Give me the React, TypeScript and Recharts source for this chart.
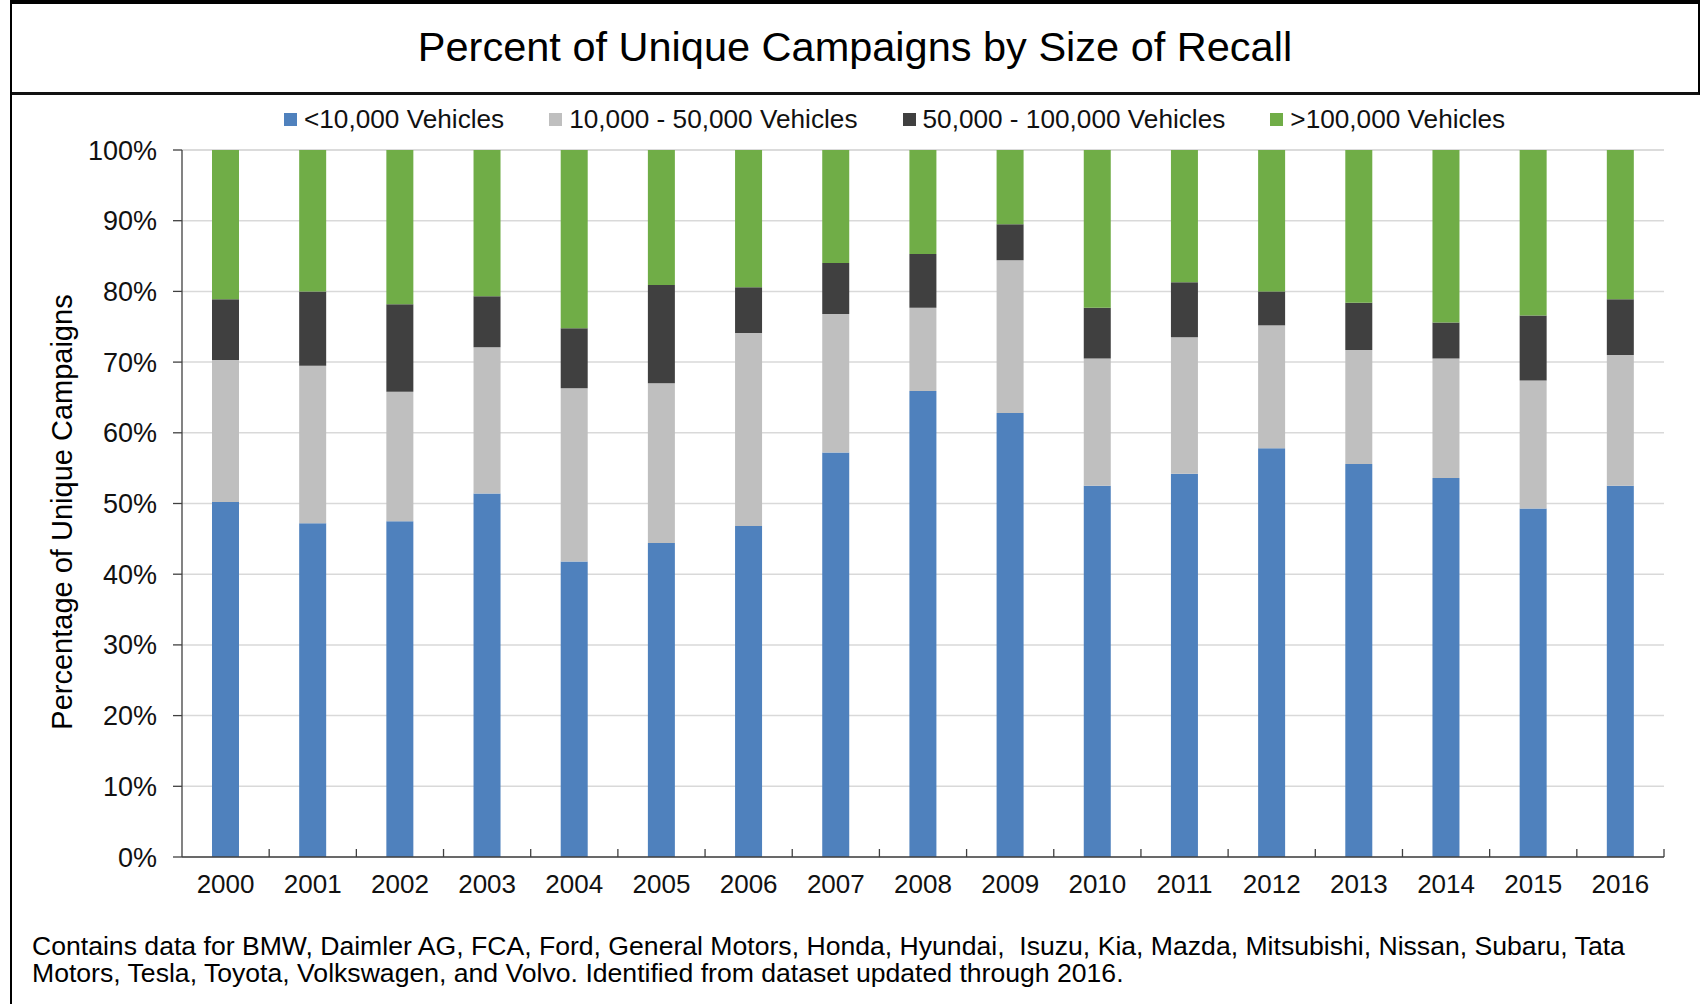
import React from 'react';
import { BarChart, Bar, XAxis, YAxis, CartesianGrid } from 'recharts';

const years = ['2000', '2001', '2002', '2003', '2004', '2005', '2006', '2007', '2008', '2009', '2010', '2011', '2012', '2013', '2014', '2015', '2016'];

// share of campaigns per recall size bucket, in percent
const under10k = [50.2, 47.2, 47.5, 51.4, 41.8, 44.4, 46.8, 57.2, 65.9, 62.8, 52.5, 54.2, 57.8, 55.6, 53.6, 49.3, 52.5];
const from10kTo50k = [20.1, 22.3, 18.3, 20.7, 24.5, 22.6, 27.3, 19.6, 11.8, 21.6, 18.0, 19.3, 17.4, 16.1, 16.9, 18.1, 18.5];
const from50kTo100k = [8.6, 10.5, 12.4, 7.2, 8.5, 13.9, 6.5, 7.2, 7.6, 5.1, 7.2, 7.8, 4.8, 6.7, 5.1, 9.2, 7.9];
const over100k = [21.1, 20.0, 21.8, 20.7, 25.2, 19.1, 19.4, 16.0, 14.7, 10.5, 22.3, 18.7, 20.0, 21.6, 24.4, 23.4, 21.1];

const yTicks = [0, 10, 20, 30, 40, 50, 60, 70, 80, 90, 100];
const yMinorTicks = Array.from({ length: 51 }, (_, i) => i * 2);

const series = [
  { key: 'under10k', name: '<10,000 Vehicles', color: '#4F81BD' },
  { key: 'from10kTo50k', name: '10,000 - 50,000 Vehicles', color: '#BFBFBF' },
  { key: 'from50kTo100k', name: '50,000 - 100,000 Vehicles', color: '#404040' },
  { key: 'over100k', name: '>100,000 Vehicles', color: '#70AD47' },
];

const FONT = '"Liberation Sans", Arial, Helvetica, sans-serif';
const W = 1700;
const H = 1004;
const PLOT_LEFT = 182;
const PLOT_RIGHT = 1664;
const PLOT_TOP = 150;
const PLOT_BOTTOM = 857;
const X_AXIS_H = 30;
const X_TICK_MARGIN = 18;
const BAND = (PLOT_RIGHT - PLOT_LEFT) / years.length;
const AXIS_COLOR = '#404040';

function XTick({ x, y, payload }: any) {
  const axisY = y - X_TICK_MARGIN;
  const bx = x + BAND / 2;
  return (
    <g>
      <line x1={bx} x2={bx} y1={axisY - 8} y2={axisY} stroke={AXIS_COLOR} strokeWidth={1.3} />
      <text x={x} y={y} dy="0.71em" textAnchor="middle" fontSize={26} fill="#111" fontFamily={FONT}>
        {payload.value}
      </text>
    </g>
  );
}

export default function App() {
  const data = years.map((year, i) => ({
    year,
    under10k: under10k[i],
    from10kTo50k: from10kTo50k[i],
    from50kTo100k: from50kTo100k[i],
    over100k: over100k[i],
  }));

  return (
    <div style={{ position: 'absolute', left: 0, top: 0, width: W, height: H, background: '#fff', fontFamily: FONT, overflow: 'hidden', color: '#111' }}>
      {/* frame */}
      <div style={{ position: 'absolute', left: 10, top: 0, width: W - 12, height: 88, borderTop: '4px solid #000', borderBottom: '3px solid #111', borderRight: '2px solid #000' }} />
      <div style={{ position: 'absolute', left: 10, top: 0, height: H, borderLeft: '2px solid #000' }} />

      <div style={{ position: 'absolute', left: 12, top: 4, width: W - 14, height: 86, display: 'flex', alignItems: 'center', justifyContent: 'center', fontSize: 41.5, color: '#000' }}>
        Percent of Unique Campaigns by Size of Recall
      </div>

      {/* legend */}
      <div style={{ position: 'absolute', left: 284, top: 104, height: 30, display: 'flex', alignItems: 'center', fontSize: 26.2, gap: 45 }}>
        {series.map(s => (
          <div key={s.key} style={{ display: 'flex', alignItems: 'center' }}>
            <span style={{ display: 'inline-block', width: 13, height: 13, background: s.color, marginRight: 7 }} />
            <span>{s.name}</span>
          </div>
        ))}
      </div>

      <div style={{ position: 'absolute', left: 62, top: 512, transform: 'translate(-50%, -50%) rotate(-90deg)', whiteSpace: 'nowrap', fontSize: 29, color: '#000' }}>
        Percentage of Unique Campaigns
      </div>

      <div style={{ position: 'absolute', left: 0, top: 0 }}>
        <BarChart
          width={W}
          height={H}
          data={data}
          margin={{ top: PLOT_TOP, right: W - PLOT_RIGHT, bottom: H - PLOT_BOTTOM - X_AXIS_H, left: 0 }}
        >
          <CartesianGrid vertical={false} stroke="#D9D9D9" strokeWidth={1.5} />
          <XAxis
            dataKey="year"
            height={X_AXIS_H}
            tickLine={false}
            tickSize={0}
            tickMargin={X_TICK_MARGIN}
            axisLine={{ stroke: AXIS_COLOR, strokeWidth: 1.3 }}
            tick={<XTick />}
            interval={0}
          />
          <YAxis
            width={PLOT_LEFT}
            domain={[0, 100]}
            ticks={yTicks}
            interval={0}
            tickFormatter={(v: number) => `${v}%`}
            tickSize={9}
            tickMargin={16}
            tickLine={{ stroke: AXIS_COLOR, strokeWidth: 1.3 }}
            axisLine={{ stroke: AXIS_COLOR, strokeWidth: 1.3 }}
            tick={{ fontSize: 27, fill: '#111', fontFamily: FONT }}
          />
          <YAxis
            yAxisId="minor"
            mirror
            width={0}
            domain={[0, 100]}
            ticks={yMinorTicks}
            interval={0}
            tick={false}
            tickSize={6}
            axisLine={false}
            tickLine={{ stroke: AXIS_COLOR, strokeWidth: 1.3 }}
          />
          {series.map(s => (
            <Bar key={s.key} dataKey={s.key} name={s.name} stackId="a" fill={s.color} barSize={27} isAnimationActive={false} />
          ))}
        </BarChart>
      </div>

      <div style={{ position: 'absolute', left: 32, top: 933, fontSize: 26.6, lineHeight: '27px', color: '#000', whiteSpace: 'pre' }}>
        {'Contains data for BMW, Daimler AG, FCA, Ford, General Motors, Honda, Hyundai,  Isuzu, Kia, Mazda, Mitsubishi, Nissan, Subaru, Tata\nMotors, Tesla, Toyota, Volkswagen, and Volvo. Identified from dataset updated through 2016.'}
      </div>
    </div>
  );
}
